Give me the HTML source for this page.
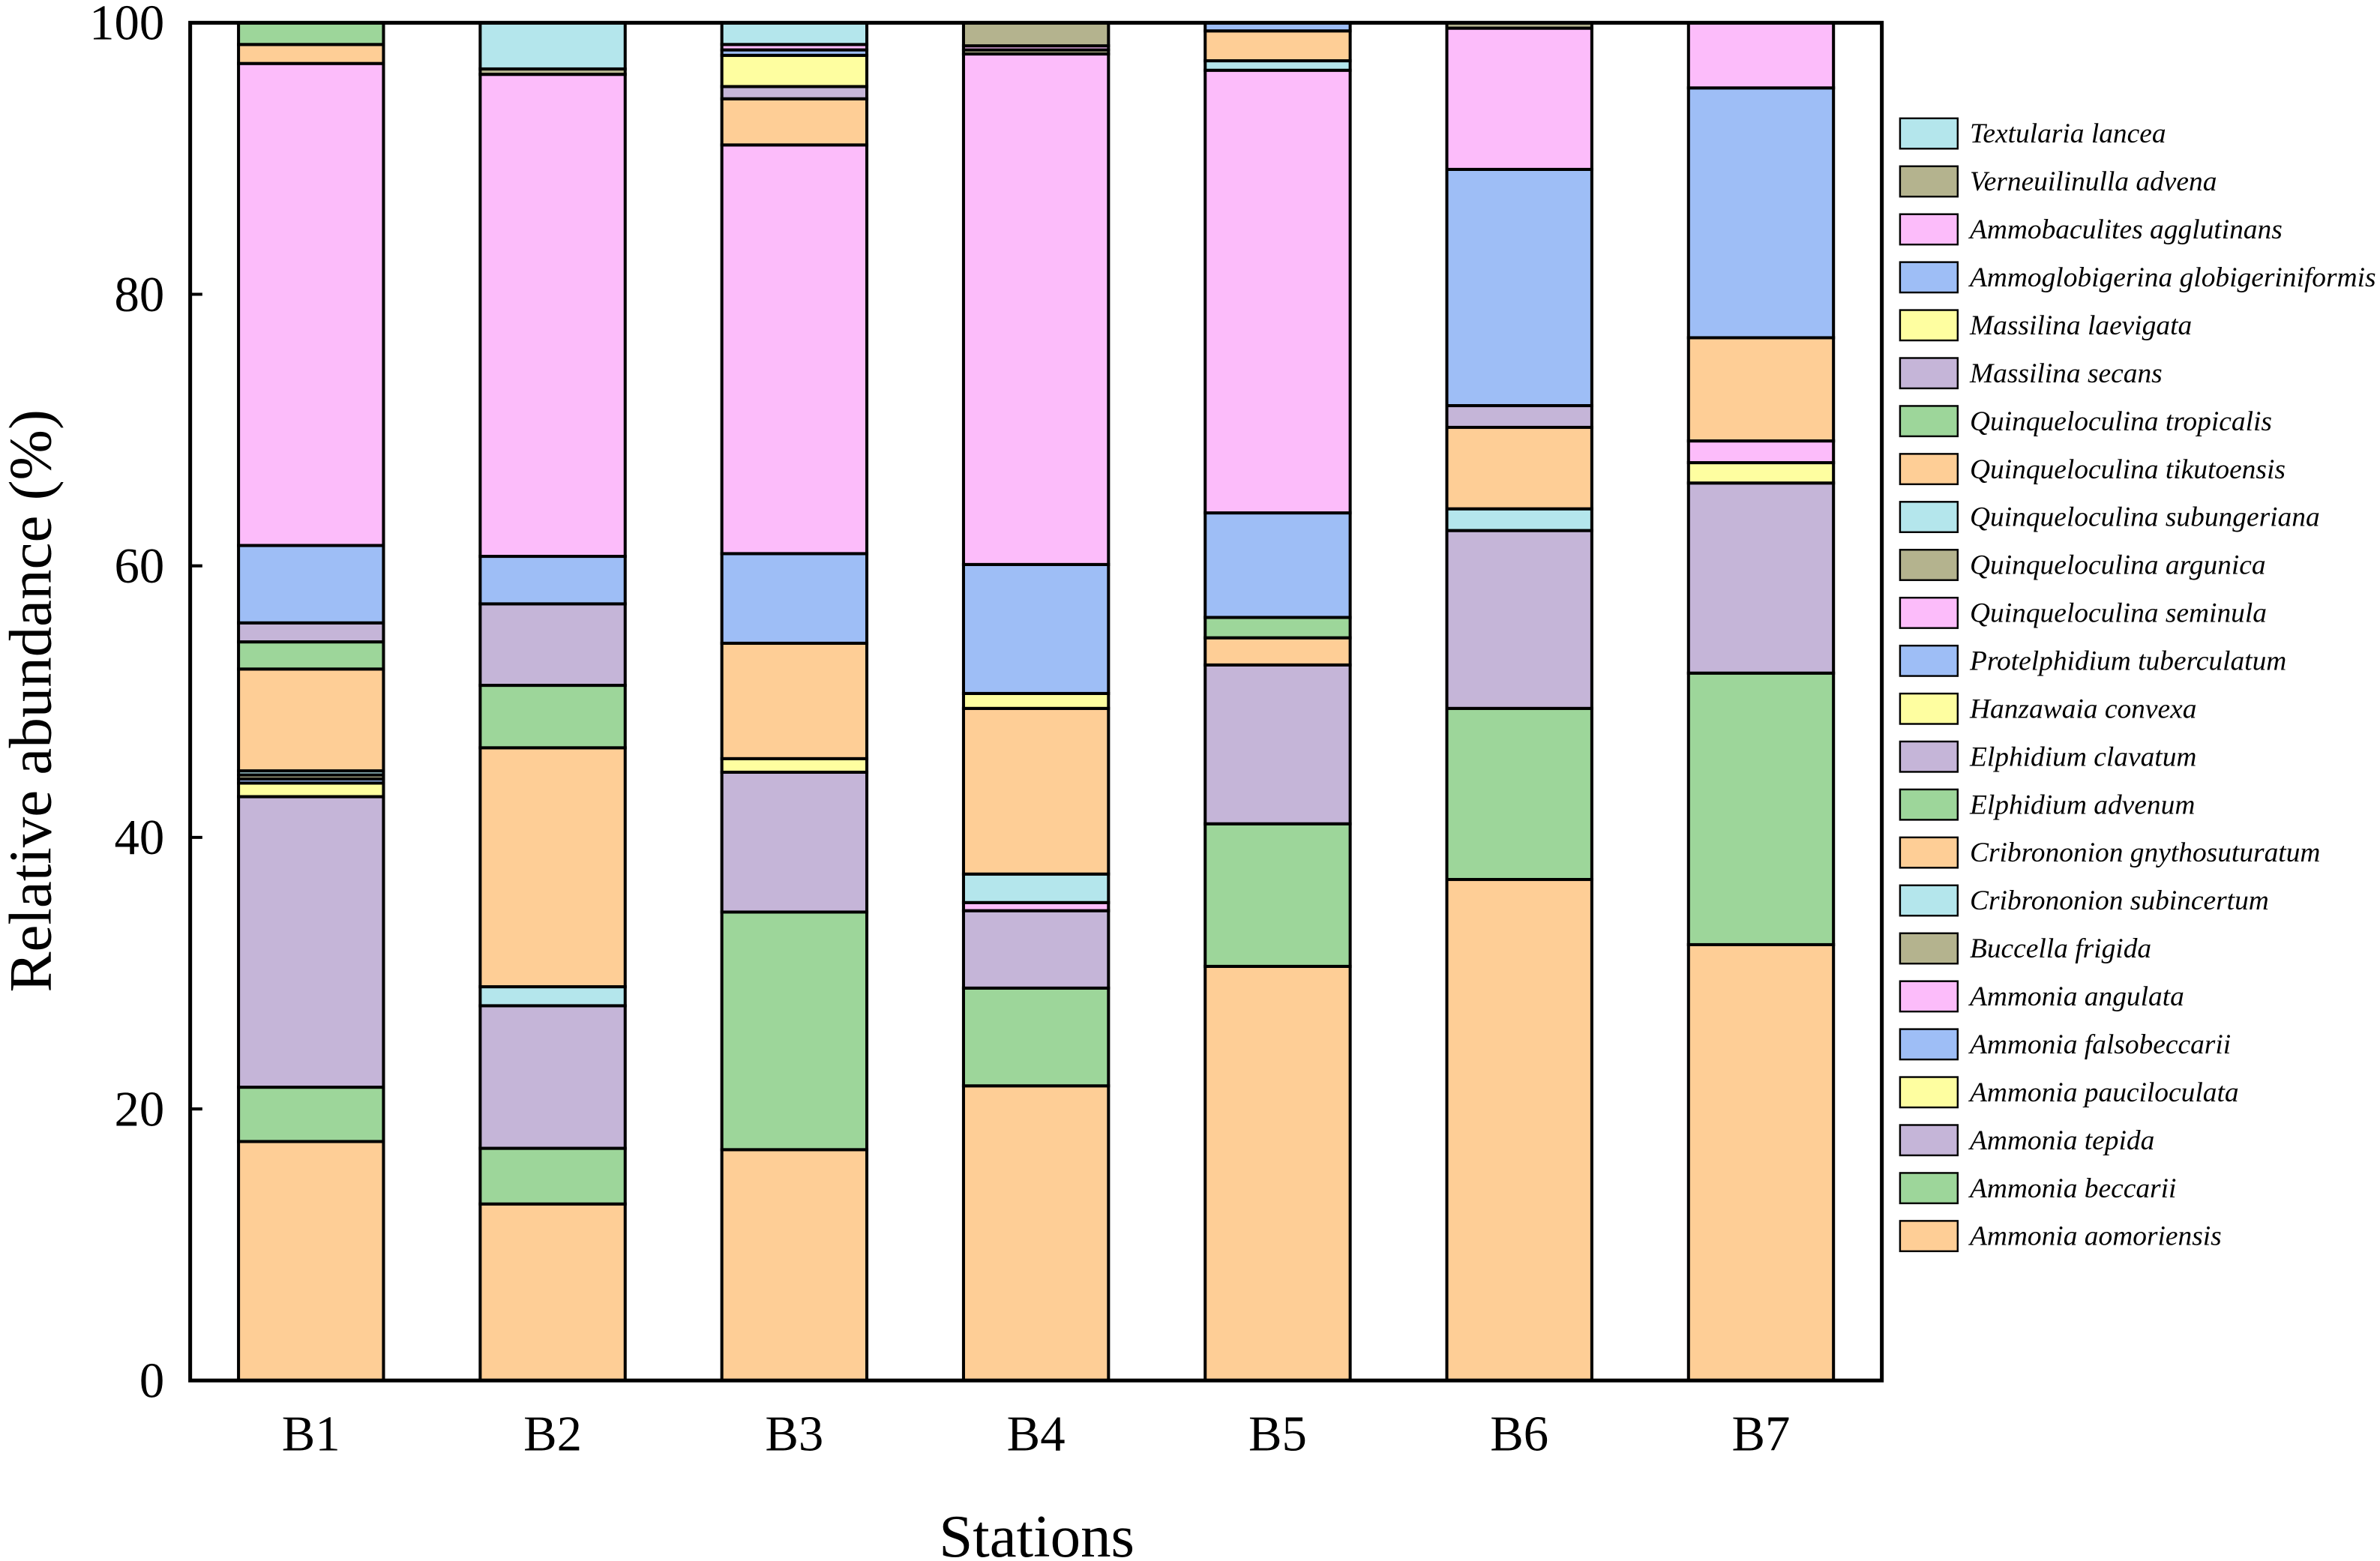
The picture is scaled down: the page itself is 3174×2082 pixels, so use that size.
<!DOCTYPE html>
<html><head><meta charset="utf-8"><style>
html,body{margin:0;padding:0;background:#fff}
svg{display:block}
text{font-family:"Liberation Serif",serif;fill:#000}
</style></head><body>
<svg id="chart" width="3174" height="2082" viewBox="0 0 1568 1029" xmlns="http://www.w3.org/2000/svg"></svg>
<script>
const stations = ["B1","B2","B3","B4","B5","B6","B7"];
const species = ["Ammonia aomoriensis","Ammonia beccarii","Ammonia tepida","Ammonia pauciloculata","Ammonia falsobeccarii","Ammonia angulata","Buccella frigida","Cribrononion subincertum","Cribrononion gnythosuturatum","Elphidium advenum","Elphidium clavatum","Hanzawaia convexa","Protelphidium tuberculatum","Quinqueloculina seminula","Quinqueloculina argunica","Quinqueloculina subungeriana","Quinqueloculina tikutoensis","Quinqueloculina tropicalis","Massilina secans","Massilina laevigata","Ammoglobigerina globigeriniformis","Ammobaculites agglutinans","Verneuilinulla advena","Textularia lancea"];
const colors = ["#FECE96","#9DD69A","#C5B5D8","#FEFEA0","#9EBEF6","#FCBCFA","#B4B38E","#B4E6EC"];
// values per station, in species order
const vB1 = [17.6,4.0,21.4,1.0,0.3,0,0.3,0.3,7.5,2.0,1.4,0,5.7,35.5,0,0,1.4,1.6,0,0,0,0,0,0];
const vB2 = [13.0,4.1,10.5,0,0,0,0,1.4,17.6,4.6,6.0,0,3.5,35.5,0.4,3.4,0,0,0,0,0,0,0,0];
const vB3 = [17.0,17.5,10.3,1.0,0,0,0,0,8.5,0,0,0,6.6,30.1,0,0,3.4,0,0.9,2.3,0.4,0.4,0,1.6];
const vB4 = [21.7,7.2,5.7,0,0,0.6,0,2.1,12.2,0,0,1.1,9.5,37.6,0.3,0,0,0,0,0,0,0.3,1.7,0];
const vB5 = [30.5,10.5,11.7,0,0,0,0,0,2.0,1.5,0,0,7.7,32.6,0,0.7,2.2,0,0,0,0.6,0,0,0];
const vB6 = [36.9,12.6,13.1,0,0,0,0,1.6,6.0,0,1.6,0,17.4,10.4,0.4,0,0,0,0,0,0,0,0,0];
const vB7 = [32.1,20.0,14.0,1.5,0,1.6,0,0,7.6,0,0,0,18.4,4.8,0,0,0,0,0,0,0,0,0,0];
const values = [vB1,vB2,vB3,vB4,vB5,vB6,vB7];
const yTicks = [0,20,40,60,80,100];

const NS="http://www.w3.org/2000/svg";
const svg=document.getElementById('chart');
const L=125,R=1240,T=15,B=910;
const y=v=>B-(v/100)*(B-T);
const band=(R-L)/stations.length;
const xc=i=>L+band*(i+0.5);
const bw=band*0.6;
function mk(tag,attrs){const e=document.createElementNS(NS,tag);for(const k in attrs)e.setAttribute(k,attrs[k]);svg.appendChild(e);return e;}

stations.forEach((s,i)=>{
  let cum=0;
  values[i].forEach((v,j)=>{
    if(v<=0)return;
    const r=mk('rect',{x:xc(i)-bw/2,y:y(cum+v),width:bw,height:y(cum)-y(cum+v),fill:colors[j%8],stroke:'#000','stroke-width':2});
    
    
    cum+=v;
  });
  const t=mk('text',{x:xc(i),y:956,'text-anchor':'middle','font-size':33});
  t.textContent=s;
  
  
});

const f=mk('rect',{x:L,y:T,width:R-L,height:B-T,fill:'none',stroke:'#000','stroke-width':2.5});



yTicks.forEach(v=>{
  const tk=mk('line',{x1:L,x2:L+8,y1:y(v),y2:y(v),stroke:'#000','stroke-width':2});
  
  
  const t=mk('text',{x:108,y:y(v)+11,'text-anchor':'end','font-size':33});
  t.textContent=v;
  
  
});

const xt=mk('text',{x:683,y:1026,'text-anchor':'middle','font-size':40});
xt.textContent='Stations';


const yt=mk('text',{x:0,y:0,'text-anchor':'middle','font-size':40,transform:'translate(33,462) rotate(-90)'});
yt.textContent='Relative abundance (%)';



const n=species.length;
for(let k=0;k<n;k++){
  const j=n-1-k;
  const yy=78+k*31.6;
  const r=mk('rect',{x:1252,y:yy,width:38,height:20,fill:colors[j%8],stroke:'#000','stroke-width':1.2});
  
  
  const t=mk('text',{x:1298,y:yy+16,'font-size':18.5,'font-style':'italic'});
  t.textContent=species[j];
  
  
}
</script>
</body></html>
